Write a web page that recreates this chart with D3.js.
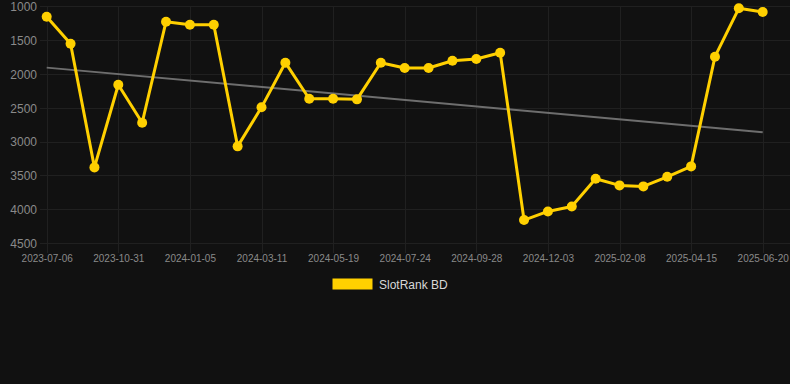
<!DOCTYPE html>
<html>
<head>
<meta charset="utf-8">
<script src="https://cdn.jsdelivr.net/npm/d3@7"></script>
<style>
  html, body { margin: 0; padding: 0; background: #111111; }
  svg { display: block; }
  text { font-family: "Liberation Sans", Arial, Helvetica, sans-serif; }
</style>
</head>
<body>
<svg id="chart" width="790" height="384"></svg>
<script>
const categories = [
  "2023-07-06","2023-08-15","2023-09-22","2023-10-31","2023-11-22","2023-12-14",
  "2024-01-05","2024-01-27","2024-02-18","2024-03-11","2024-04-03","2024-04-26",
  "2024-05-19","2024-06-10","2024-07-02","2024-07-24","2024-08-15","2024-09-06",
  "2024-09-28","2024-10-20","2024-11-11","2024-12-03","2024-12-25","2025-01-17",
  "2025-02-08","2025-03-02","2025-03-24","2025-04-15","2025-05-07","2025-05-29",
  "2025-06-20"
];
const seriesName = "SlotRank BD";
const rankValues = [
  1154, 1553, 3382, 2160, 2722, 1228, 1272, 1272, 3071, 2494,
  1834, 2367, 2367, 2376, 1834, 1913, 1913, 1805, 1780, 1686,
  4161, 4033, 3959, 3550, 3648, 3663, 3521, 3367, 1745, 1030,
  1084
];
const yTicks = [1000, 1500, 2000, 2500, 3000, 3500, 4000, 4500];
const tickEvery = 3;

const svg = d3.select("#chart");
const W = 790;

const x = d3.scalePoint().domain(categories).range([46.7, 762.7]);
const y = d3.scaleLinear().domain([1000, 4500]).range([6.3, 243]);

const gridColor = "#202020";
const labelColor = "#8a8a8a";

// horizontal grid
svg.append("g").selectAll("line").data(yTicks).join("line")
  .attr("x1", 40).attr("x2", W)
  .attr("y1", d => Math.round(y(d)) + 0.5).attr("y2", d => Math.round(y(d)) + 0.5)
  .attr("stroke", gridColor).attr("stroke-width", 1);

// vertical grid (with tick extension)
const shownCats = categories.filter((d, i) => i % tickEvery === 0);
svg.append("g").selectAll("line").data(shownCats).join("line")
  .attr("x1", d => Math.round(x(d)) + 0.5).attr("x2", d => Math.round(x(d)) + 0.5)
  .attr("y1", 6).attr("y2", 253)
  .attr("stroke", gridColor).attr("stroke-width", 1);

// y axis labels
const yAxis = d3.axisLeft(y).tickValues(yTicks).tickSize(0).tickPadding(0).tickFormat(d3.format("d"));
const gy = svg.append("g").attr("transform", "translate(37,0)").call(yAxis);
gy.select(".domain").remove();
gy.selectAll("text").attr("fill", labelColor).attr("font-size", 12)
  .attr("font-family", "Liberation Sans, Arial, sans-serif").attr("dy", "0.36em");

// x axis labels
const xAxis = d3.axisBottom(x).tickValues(shownCats).tickSize(0).tickPadding(0);
const gx = svg.append("g").attr("transform", "translate(0,255)").call(xAxis);
gx.select(".domain").remove();
gx.selectAll("text").attr("fill", labelColor).attr("font-size", 10)
  .attr("font-family", "Liberation Sans, Arial, sans-serif").attr("dy", "0.71em");

// trend line (least squares over index)
const n = rankValues.length;
const idx = d3.range(n);
const mx = d3.mean(idx), my = d3.mean(rankValues);
const slope = d3.sum(idx, i => (i - mx) * (rankValues[i] - my)) / d3.sum(idx, i => (i - mx) ** 2);
const intercept = my - slope * mx;
svg.append("line")
  .attr("x1", x(categories[0])).attr("y1", y(intercept))
  .attr("x2", x(categories[n - 1])).attr("y2", y(intercept + slope * (n - 1)))
  .attr("stroke", "#6e6e6e").attr("stroke-width", 2);

// series line
const lineColor = "#FFD000";
const line = d3.line().x((d, i) => x(categories[i])).y(d => y(d));
svg.append("path").datum(rankValues)
  .attr("d", line).attr("fill", "none")
  .attr("stroke", lineColor).attr("stroke-width", 3).attr("stroke-linejoin", "round");

svg.append("g").selectAll("circle").data(rankValues).join("circle")
  .attr("cx", (d, i) => x(categories[i])).attr("cy", d => y(d))
  .attr("r", 5).attr("fill", lineColor);

// legend
const lg = svg.append("g");
lg.append("rect").attr("x", 332.5).attr("y", 278.5).attr("width", 40).attr("height", 11)
  .attr("fill", lineColor);
lg.append("text").attr("x", 379).attr("y", 288.5).attr("fill", "#d8d8d8")
  .attr("font-size", 12).text(seriesName);
</script>
</body>
</html>
